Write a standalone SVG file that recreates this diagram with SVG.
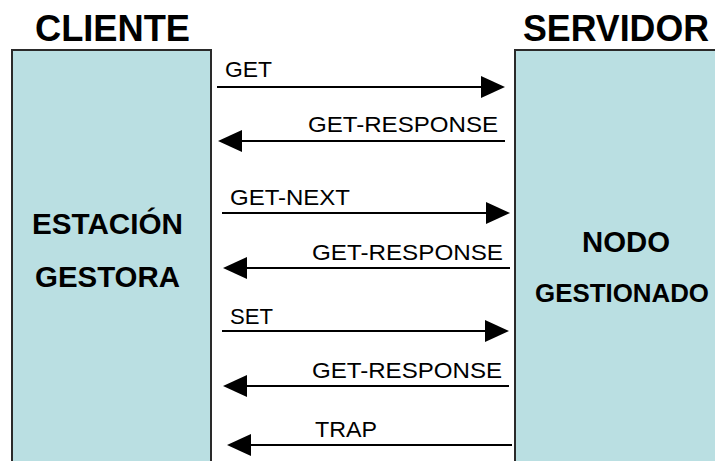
<svg xmlns="http://www.w3.org/2000/svg" width="715" height="461" viewBox="0 0 715 461">
<style>
.box{fill:#badfe2;stroke:#2a2a2a;stroke-width:2}
.title{font-family:"Liberation Sans",Arial,sans-serif;font-size:36px;font-weight:bold;fill:#000}
.node{font-family:"Liberation Sans",Arial,sans-serif;font-size:29px;font-weight:bold;fill:#000}
.msg{font-family:"Liberation Sans",Arial,sans-serif;font-size:22px;fill:#000}
.conn{stroke:#000;stroke-width:2;fill:none;marker-end:url(#ah)}
</style>
<defs>
<marker id="ah" viewBox="0 0 24 22" refX="20" refY="11" markerWidth="24" markerHeight="22" markerUnits="userSpaceOnUse" orient="auto">
<path d="M0,0 L24,11 L0,22 z" fill="#000"/>
</marker>
</defs>
<rect width="715" height="461" fill="#fff"/>
<g id="cliente">
<text class="title" x="35" y="41" textLength="155" lengthAdjust="spacingAndGlyphs">CLIENTE</text>
<rect class="box" x="12" y="50" width="199" height="413"/>
<text class="node" x="32" y="234" textLength="151" lengthAdjust="spacingAndGlyphs">ESTACIÓN</text>
<text class="node" x="35" y="287" textLength="145" lengthAdjust="spacingAndGlyphs">GESTORA</text>
</g>
<g id="servidor">
<text class="title" x="523" y="41" textLength="186" lengthAdjust="spacingAndGlyphs">SERVIDOR</text>
<rect class="box" x="515" y="50" width="202" height="413"/>
<text class="node" x="582" y="252" textLength="88" lengthAdjust="spacingAndGlyphs">NODO</text>
<text class="node" x="535" y="302" style="font-size:26px" textLength="174" lengthAdjust="spacingAndGlyphs">GESTIONADO</text>
</g>
<g id="connectors">
<line class="conn" x1="217" y1="87" x2="501" y2="87"/>
<text class="msg" x="225" y="77" textLength="47" lengthAdjust="spacingAndGlyphs">GET</text>
<line class="conn" x1="505" y1="141" x2="222" y2="141"/>
<text class="msg" x="308" y="132" textLength="190" lengthAdjust="spacingAndGlyphs">GET-RESPONSE</text>
<line class="conn" x1="222" y1="213" x2="506" y2="213"/>
<text class="msg" x="230" y="205" textLength="120" lengthAdjust="spacingAndGlyphs">GET-NEXT</text>
<line class="conn" x1="510" y1="268" x2="227" y2="268"/>
<text class="msg" x="312" y="260" textLength="191" lengthAdjust="spacingAndGlyphs">GET-RESPONSE</text>
<line class="conn" x1="222" y1="331" x2="505" y2="331"/>
<text class="msg" x="230" y="324" textLength="43" lengthAdjust="spacingAndGlyphs">SET</text>
<line class="conn" x1="509" y1="386" x2="227" y2="386"/>
<text class="msg" x="312" y="378" textLength="190" lengthAdjust="spacingAndGlyphs">GET-RESPONSE</text>
<line class="conn" x1="512" y1="445" x2="231" y2="445"/>
<text class="msg" x="315" y="437" textLength="62" lengthAdjust="spacingAndGlyphs">TRAP</text>
</g>
</svg>
